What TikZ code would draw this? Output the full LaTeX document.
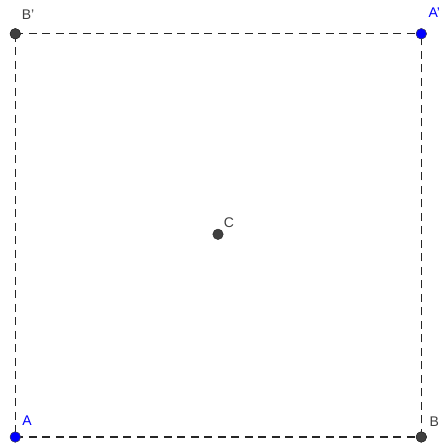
\documentclass[tikz,border=0pt]{standalone}
\usepackage{fontspec}
\setmainfont{Liberation Sans}
\usepackage{tikz}
\definecolor{ptblue}{RGB}{0,0,255}
\definecolor{ptgray}{RGB}{64,64,64}
\tikzset{
	sedge/.style={draw=black!85,line width=1.1pt,dash pattern=on 8pt off 5.5pt},
	gpt/.style={circle,fill=ptgray,draw=black!85,line width=0.4pt,inner sep=0pt,minimum size=10.5pt},
	bpt/.style={circle,fill=ptblue,draw=black!70,line width=0.4pt,inner sep=0pt,minimum size=10.5pt},
	glab/.style={text=black!75,font=\fontsize{14}{16}\selectfont,inner sep=0pt},
	blab/.style={text=ptblue,font=\fontsize{14}{16}\selectfont,inner sep=0pt}
}
\begin{document}
\begin{tikzpicture}[x=1pt,y=1pt]
	\fill[white] (0,0) rectangle (435,444);
	\node[gpt] (Bp) at (15.3,410.2) {};
	\node[bpt] (Ap) at (421.3,410.2) {};
	\node[bpt] (A) at (15.3,7) {};
	\node[gpt] (B) at (421.3,7) {};
	\node[gpt] (C) at (218,209.7) {};
	\draw[sedge] (A.center) -- (B.center);
	\draw[sedge] (B.center) -- (Ap.center);
	\draw[sedge] (Bp.center) -- (Ap.center);
	\draw[sedge] (Bp.center) -- (A.center);
	% points on top of the edges
	\node[gpt] at (Bp) {};
	\node[bpt] at (Ap) {};
	\node[bpt] at (A) {};
	\node[gpt] at (B) {};
	\node[glab] (lBp) at (28,429.5) {B'};
	\node[blab,anchor=west] (lAp) at (428.3,431.5) {A'};
	\node[blab] (lA) at (27,23.5) {A};
	\node[glab,anchor=west] (lB) at (429.3,22) {B};
	\node[glab] (lC) at (229,221.5) {C};
\end{tikzpicture}
\end{document}
